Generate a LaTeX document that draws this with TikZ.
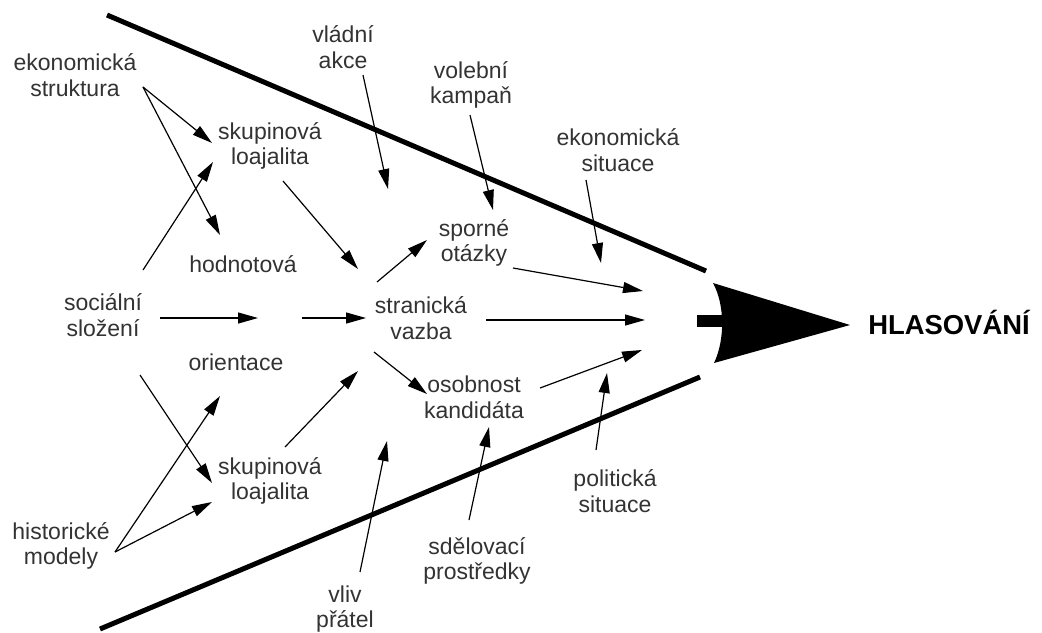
\documentclass[tikz,border=0pt]{standalone}
\usepackage{fontspec}
\setmainfont{Liberation Sans}
\usetikzlibrary{arrows.meta}

\begin{document}
\begin{tikzpicture}[x=0.5pt, y=-0.5pt,
    lbl/.style={align=center, text=black!80, inner sep=1pt,
                font=\fontsize{11.5}{12.8}\selectfont},
    arr/.style={line width=0.6pt, -{Triangle[length=10pt, width=5.5pt]}},
    wall/.style={line width=2.5pt}]
    \useasboundingbox[fill=white] (0,0) rectangle (1042,632);

    % stěny trychtýře
    \draw[wall] (107,15) -- (706,271);
    \draw[wall] (100,629) -- (700,377);

    % velká šipka
    \fill (697,315) rectangle (735,327);
    \fill (713,283) -- (850,325) -- (714,363) .. controls (725,340) and (725,305) .. cycle;
    \node[font=\bfseries\fontsize{13.7}{15}\selectfont, inner sep=1pt] (hlas) at (949,322) {HLASOVÁNÍ};

    % popisky
    \node[lbl] (ekstr)  at (75,75)   {ekonomická\\struktura};
    \node[lbl] (skupA)  at (270,146) {skupinová\\loajalita};
    \node[lbl] (hodn)   at (243,264) {hodnotová};
    \node[lbl] (soc)    at (103,315) {sociální\\složení};
    \node[lbl] (orient) at (236,362) {orientace};
    \node[lbl] (skupB)  at (270,481) {skupinová\\loajalita};
    \node[lbl] (hist)   at (61,546)  {historické\\modely};
    \node[lbl] (vlada)  at (343,47)  {vládní\\akce};
    \node[lbl] (kamp)   at (471,85)  {volební\\kampaň};
    \node[lbl] (ekosit) at (618,150) {ekonomická\\situace};
    \node[lbl] (sporne) at (474,243) {sporné\\otázky};
    \node[lbl] (stran)  at (421,318) {stranická\\vazba};
    \node[lbl] (osob)   at (474,397) {osobnost\\kandidáta};
    \node[lbl] (sdel)   at (477,561) {sdělovací\\prostředky};
    \node[lbl] (vliv)   at (345,609) {vliv\\přátel};
    \node[lbl] (polit)  at (615,491) {politická\\situace};

    % konce šipek
    \coordinate (ekstr-o)   at (143,87);
    \coordinate (skupA-i1)  at (212,143);
    \coordinate (hodn-i)    at (220,235);
    \coordinate (soc-u)     at (143,270);
    \coordinate (skupA-i2)  at (213,162);
    \coordinate (soc-r)     at (160,318);
    \coordinate (ho-in)     at (258,318);
    \coordinate (ho-out)    at (302,318);
    \coordinate (stran-i1)  at (366,318);
    \coordinate (soc-d)     at (140,375);
    \coordinate (skupB-i1)  at (212,483);
    \coordinate (hist-o)    at (115,552);
    \coordinate (orient-i)  at (220,396);
    \coordinate (skupB-i2)  at (212,502);
    \coordinate (skupA-o)   at (283,181);
    \coordinate (stran-i2)  at (358,269);
    \coordinate (skupB-o)   at (285,447);
    \coordinate (stran-i3)  at (358,371);
    \coordinate (vlada-o)   at (363,75);
    \coordinate (stran-t)   at (388,189);
    \coordinate (vliv-o)    at (360,572);
    \coordinate (stran-b)   at (387,441);
    \coordinate (stran-o1)  at (377,282);
    \coordinate (sporne-i)  at (427,240);
    \coordinate (stran-o2)  at (486,320);
    \coordinate (hlas-2)    at (645,320);
    \coordinate (stran-o3)  at (374,352);
    \coordinate (osob-i)    at (427,394);
    \coordinate (kamp-o)    at (470,115);
    \coordinate (sporne-t)  at (493,210);
    \coordinate (sporne-o)  at (513,268);
    \coordinate (hlas-1)    at (643,291);
    \coordinate (ekosit-o)  at (586,180);
    \coordinate (ekosit-i)  at (601,263);
    \coordinate (osob-o)    at (540,388);
    \coordinate (hlas-3)    at (642,350);
    \coordinate (polit-o)   at (596,450);
    \coordinate (polit-i)   at (607,373);
    \coordinate (sdel-o)    at (469,520);
    \coordinate (osob-b)    at (489,427);

    % šipky
    \draw[arr] (ekstr-o) -- (skupA-i1);
    \draw[arr] (ekstr-o) -- (hodn-i);
    \draw[arr] (soc-u) -- (skupA-i2);
    \draw[arr] (soc-r) -- (ho-in);
    \draw[arr] (ho-out) -- (stran-i1);
    \draw[arr] (soc-d) -- (skupB-i1);
    \draw[arr] (hist-o) -- (orient-i);
    \draw[arr] (hist-o) -- (skupB-i2);
    \draw[arr] (skupA-o) -- (stran-i2);
    \draw[arr] (skupB-o) -- (stran-i3);
    \draw[arr] (vlada-o) -- (stran-t);
    \draw[arr] (vliv-o) -- (stran-b);
    \draw[arr] (stran-o1) -- (sporne-i);
    \draw[arr] (stran-o2) -- (hlas-2);
    \draw[arr] (stran-o3) -- (osob-i);
    \draw[arr] (kamp-o) -- (sporne-t);
    \draw[arr] (sporne-o) -- (hlas-1);
    \draw[arr] (ekosit-o) -- (ekosit-i);
    \draw[arr] (osob-o) -- (hlas-3);
    \draw[arr] (polit-o) -- (polit-i);
    \draw[arr] (sdel-o) -- (osob-b);
\end{tikzpicture}
\end{document}
